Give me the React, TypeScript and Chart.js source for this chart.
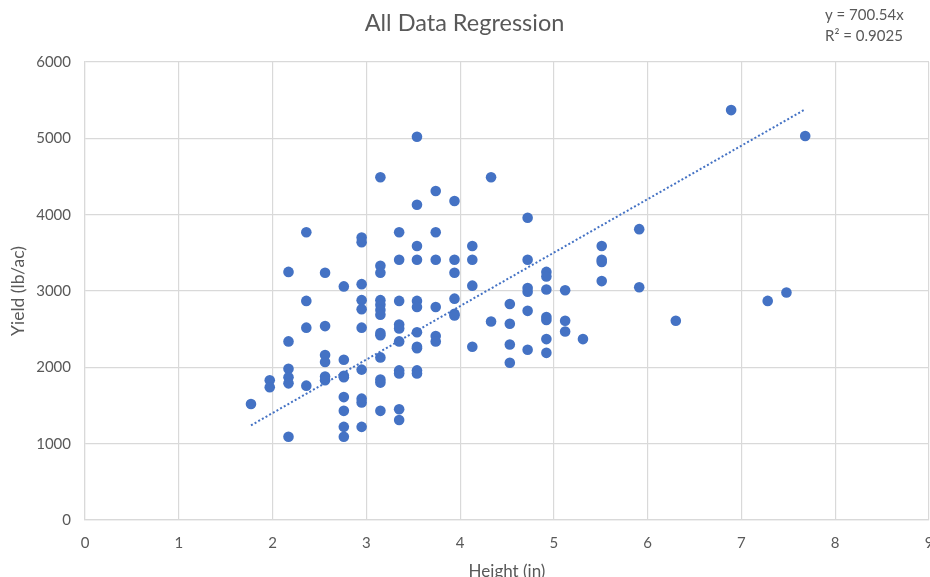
import React, { useEffect, useRef } from "react";
import { Chart, registerables } from "chart.js";

Chart.register(...registerables);

const chartTitle = "All Data Regression";
const xAxisTitle = "Height (in)";
const yAxisTitle = "Yield (lb/ac)";
const equationLines = ["y = 700.54x", "R² = 0.9025"];
const trendSlope = 700.54;

const heightLevels = [
  1.77, 1.97, 2.17, 2.36, 2.56, 2.76, 2.95, 3.15, 3.35, 3.54, 3.74, 3.94, 4.13,
  4.33, 4.53, 4.72, 4.92, 5.12, 5.31, 5.51, 5.91, 6.3, 6.89, 7.28, 7.48, 7.68,
];

const yieldGroups = [
  [1520],
  [1830, 1740],
  [3250, 2340, 1980, 1870, 1790, 1090],
  [3770, 2870, 2520, 1760],
  [3240, 2540, 2160, 2070, 1880, 1830],
  [3060, 2100, 1890, 1870, 1610, 1430, 1220, 1090],
  [3700, 3640, 3090, 2880, 2760, 2520, 1970, 1590, 1540, 1220],
  [4490, 3330, 3240, 2880, 2820, 2750, 2690, 2450, 2420, 2130, 1840, 1800, 1430],
  [3770, 3410, 2870, 2560, 2510, 2340, 1960, 1920, 1450, 1310],
  [5020, 4130, 3590, 3410, 2870, 2790, 2460, 2270, 2250, 1960, 1920],
  [4310, 3770, 3410, 2790, 2410, 2340],
  [4180, 3410, 3240, 2900, 2700, 2680],
  [3590, 3410, 3070, 2270],
  [4490, 2600],
  [2830, 2570, 2300, 2060],
  [3960, 3410, 3040, 2990, 2740, 2230],
  [3250, 3190, 3020, 2660, 2620, 2370, 2190],
  [3010, 2610, 2470],
  [2370],
  [3590, 3410, 3380, 3130],
  [3810, 3050],
  [2610],
  [5370],
  [2870],
  [2980],
  [5030],
];

const xTicks = [0, 1, 2, 3, 4, 5, 6, 7, 8, 9];
const yTicks = [0, 1000, 2000, 3000, 4000, 5000, 6000];

const BLUE = "#4472C4";
const TEXT = "#595959";
const GRID = "#d9d9d9";
const FONT = "Lato, 'Open Sans', sans-serif";

export default function App() {
  const canvasRef = useRef<HTMLCanvasElement | null>(null);

  useEffect(() => {
    const canvas = canvasRef.current;
    if (!canvas) return;

    const points: { x: number; y: number }[] = [];
    heightLevels.forEach((h, i) => {
      yieldGroups[i].forEach((v) => points.push({ x: h, y: v }));
    });
    const xMin = Math.min(...heightLevels);
    const xMax = Math.max(...heightLevels);
    const trend = [
      { x: xMin, y: trendSlope * xMin },
      { x: xMax, y: trendSlope * xMax },
    ];

    const equationPlugin = {
      id: "equationLabel",
      afterDraw(chart: any) {
        const ctx = chart.ctx;
        ctx.save();
        ctx.fillStyle = TEXT;
        ctx.font = `15px ${FONT}`;
        ctx.textAlign = "left";
        ctx.textBaseline = "middle";
        ctx.fillText(equationLines[0], 825, 15);
        ctx.fillText(equationLines[1], 825, 36);
        ctx.restore();
      },
    };

    const chart = new Chart(canvas, {
      type: "scatter",
      data: {
        datasets: [
          {
            label: "Yield",
            data: points,
            backgroundColor: BLUE,
            borderColor: BLUE,
            borderWidth: 0,
            pointRadius: 5.3,
            pointHoverRadius: 5.3,
            order: 2,
          },
          {
            label: "Trend",
            type: "line",
            data: trend,
            borderColor: BLUE,
            borderWidth: 2,
            borderDash: [2, 2.2],
            pointRadius: 0,
            fill: false,
            order: 1,
          } as any,
        ],
      },
      options: {
        animation: false,
        responsive: true,
        maintainAspectRatio: false,
        layout: { padding: { left: 0, right: 31, top: 0, bottom: 0 } },
        plugins: {
          legend: { display: false },
          tooltip: { enabled: false },
          title: {
            display: true,
            text: chartTitle,
            color: TEXT,
            font: { family: FONT, size: 23.5, weight: "normal" },
            padding: { top: 9, bottom: 24.8 },
          },
        },
        scales: {
          x: {
            type: "linear",
            min: 0,
            max: 9,
            afterBuildTicks: (scale: any) => {
              scale.ticks = xTicks.map((v) => ({ value: v }));
            },
            afterFit: (scale: any) => {
              scale.height = 80;
            },
            ticks: {
              color: TEXT,
              font: { family: FONT, size: 15 },
              padding: 14,
              maxRotation: 0,
              callback: (v: any) => String(v),
            },
            grid: { color: GRID, lineWidth: 1.2, drawTicks: false },
            border: { display: true, color: GRID, width: 1.2 },
            title: {
              display: true,
              text: xAxisTitle,
              color: TEXT,
              font: { family: FONT, size: 17 },
              padding: { top: 0, bottom: 18.5 },
            },
          },
          y: {
            type: "linear",
            min: 0,
            max: 6000,
            afterBuildTicks: (scale: any) => {
              scale.ticks = yTicks.map((v) => ({ value: v }));
            },
            afterFit: (scale: any) => {
              scale.width = 85;
            },
            ticks: {
              color: TEXT,
              font: { family: FONT, size: 15 },
              padding: 14,
              callback: (v: any) => String(v),
            },
            grid: { color: GRID, lineWidth: 1.2, drawTicks: false },
            border: { display: true, color: GRID, width: 1.2 },
            title: {
              display: true,
              text: yAxisTitle,
              color: TEXT,
              font: { family: FONT, size: 17.5 },
              padding: { top: 7.5, bottom: 0 },
            },
          },
        },
      },
      plugins: [equationPlugin],
    });

    return () => chart.destroy();
  }, []);

  return (
    <div
      style={{
        position: "fixed",
        left: 0,
        top: 0,
        width: 930,
        height: 577,
        overflow: "hidden",
        background: "#ffffff",
      }}
    >
      <div style={{ position: "absolute", left: 0, top: 0, width: 960, height: 600 }}>
        <canvas ref={canvasRef} />
      </div>
    </div>
  );
}
